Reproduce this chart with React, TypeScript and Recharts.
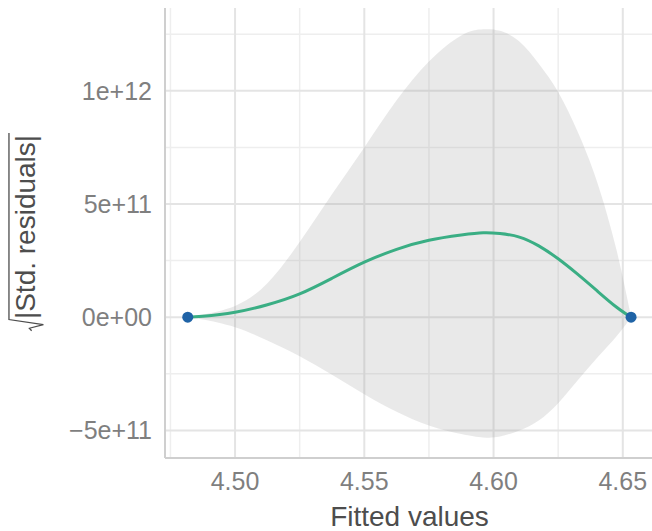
import React from 'react';
import {
  ComposedChart,
  Area,
  Line,
  Scatter,
  XAxis,
  YAxis,
  CartesianGrid,
} from 'recharts';

// loess fit of sqrt|std. residuals| against fitted values
const fittedX = [
  4.4817, 4.4875, 4.5, 4.5125, 4.525, 4.5375, 4.55, 4.5625, 4.575, 4.5875,
  4.596, 4.6025, 4.61, 4.6175, 4.625, 4.6325, 4.64, 4.6475, 4.6532,
];
const fitY = [
  0, 0.004e12, 0.022e12, 0.055e12, 0.103e12, 0.172e12, 0.243e12, 0.3e12,
  0.34e12, 0.363e12, 0.373e12, 0.3695e12, 0.354e12, 0.315e12, 0.258e12,
  0.19e12, 0.117e12, 0.045e12, 0,
];
const bandLow = [
  0, -0.01e12, -0.044e12, -0.103e12, -0.172e12, -0.254e12, -0.34e12,
  -0.418e12, -0.478e12, -0.516e12, -0.531e12, -0.527e12, -0.5e12, -0.456e12,
  -0.38e12, -0.28e12, -0.18e12, -0.085e12, 0,
];
const bandHigh = [
  0, 0.012e12, 0.05e12, 0.15e12, 0.332e12, 0.543e12, 0.75e12, 0.958e12,
  1.13e12, 1.245e12, 1.272e12, 1.265e12, 1.218e12, 1.12e12, 0.995e12,
  0.82e12, 0.6e12, 0.3e12, 0,
];

// observed points
const pointX = [4.4817, 4.6532];
const pointY = [0, 0];

const xTicks = [4.5, 4.55, 4.6, 4.65];
const xTickLabels = ['4.50', '4.55', '4.60', '4.65'];
const xMinor = [4.475, 4.525, 4.575, 4.625];
const yTicks = [-5e11, 0, 5e11, 1e12];
const yTickLabels = ['\u22125e+11', '0e+00', '5e+11', '1e+12'];
const yMinor = [-2.5e11, 2.5e11, 7.5e11, 1.25e12];

const curveData = fittedX.map((x, i) => ({
  x,
  fit: fitY[i],
  band: [bandLow[i], bandHigh[i]],
}));
const pointData = pointX.map((x, i) => ({ x, y: pointY[i] }));

const FONT = '"Liberation Sans", Arial, sans-serif';

const YTitle = (props: any) => {
  const vb = props.viewBox || {};
  const cx = vb.x + 35;
  const cy = vb.y + vb.height / 2 - 6;
  const F = 28;
  const half = 92;
  return (
    <g transform={`translate(${cx},${cy}) rotate(-90)`}>
      <path
        d={`M ${-half - 0.42 * F} ${-0.12 * F} L ${-half - 0.33 * F} ${-0.2 * F} L ${-half - 0.2 * F} ${0.3 * F} L ${-half - 0.02 * F} ${-0.93 * F} L ${half + 2} ${-0.93 * F}`}
        fill="none"
        stroke="#4d4d4d"
        strokeWidth={1.3}
      />
      <text
        x={0}
        y={0}
        textAnchor="middle"
        fontSize={F}
        fontFamily={FONT}
        fill="#4d4d4d"
      >
        |Std. residuals|
      </text>
    </g>
  );
};

const XTitle = (props: any) => {
  const vb = props.viewBox || {};
  return (
    <text
      x={vb.x + vb.width / 2 + 1}
      y={vb.y + vb.height - 5}
      textAnchor="middle"
      fontSize={28}
      fontFamily={FONT}
      fill="#4d4d4d"
    >
      Fitted values
    </text>
  );
};

const Dot = (props: any) => (
  <circle cx={props.cx} cy={props.cy} r={5.5} fill="#1f63a6" />
);

export default function App() {
  return (
    <div style={{ position: 'absolute', left: 0, top: 0, width: 652, height: 531, background: '#fff' }}>
      <ComposedChart
        width={652}
        height={531}
        data={curveData}
        margin={{ top: 8, right: 0, bottom: 0, left: 0 }}
      >
        <CartesianGrid
          horizontalValues={yMinor}
          verticalValues={xMinor}
          stroke="#eeeeee"
          strokeWidth={1.5}
        />
        <CartesianGrid
          horizontalValues={yTicks}
          verticalValues={xTicks}
          stroke="#e4e4e4"
          strokeWidth={2}
        />
        <XAxis
          dataKey="x"
          type="number"
          domain={[4.4729, 4.6613]}
          allowDataOverflow
          ticks={xTicks}
          tickFormatter={(v: number) => xTickLabels[xTicks.indexOf(v)] ?? ''}
          height={73}
          tickLine={false}
          tickSize={0}
          tickMargin={14}
          axisLine={{ stroke: '#cfcfcf', strokeWidth: 2 }}
          tick={{ fill: '#7f7f7f', fontSize: 25, fontFamily: FONT }}
          label={<XTitle />}
        />
        <YAxis
          type="number"
          domain={[-6.22e11, 1.366e12]}
          allowDataOverflow
          ticks={yTicks}
          tickFormatter={(v: number) => yTickLabels[yTicks.indexOf(v)] ?? ''}
          width={165}
          tickLine={false}
          tickSize={0}
          tickMargin={13}
          axisLine={{ stroke: '#cfcfcf', strokeWidth: 2 }}
          tick={{ fill: '#7f7f7f', fontSize: 25, fontFamily: FONT }}
          label={<YTitle />}
        />
        <Area
          dataKey="band"
          type="natural"
          stroke="none"
          fill="#999999"
          fillOpacity={0.22}
          isAnimationActive={false}
        />
        <Line
          dataKey="fit"
          type="natural"
          stroke="#3aae84"
          strokeWidth={3}
          dot={false}
          isAnimationActive={false}
        />
        <Scatter
          data={pointData}
          dataKey="y"
          shape={<Dot />}
          isAnimationActive={false}
        />
      </ComposedChart>
    </div>
  );
}
